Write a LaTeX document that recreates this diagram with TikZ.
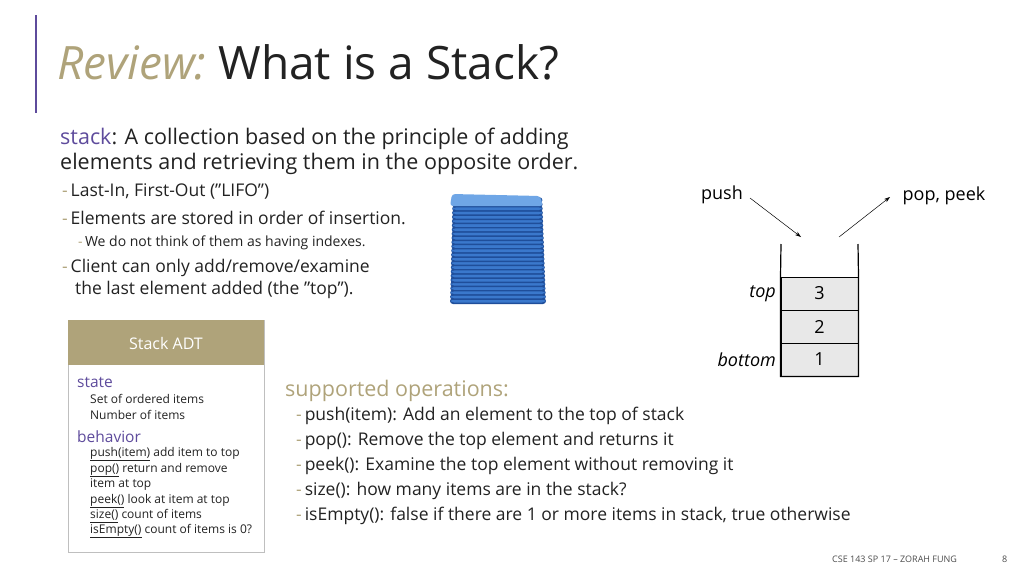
\documentclass[tikz,border=0pt]{standalone}
\usepackage{fontspec}
\setmainfont{Open Sans}
\usetikzlibrary{arrows.meta}
\definecolor{tan}{HTML}{AFA37A}
\definecolor{purp}{HTML}{5E4B9C}
\definecolor{txt}{HTML}{222222}
\definecolor{pl}{HTML}{3A78CC}
\definecolor{pld}{HTML}{1F4E9A}
\definecolor{plt}{HTML}{6FA6E6}
\tikzset{
 t/.style={anchor=west,inner sep=0pt,text=txt},
 cell/.style={draw=black,fill=black!9,minimum width=77pt,minimum height=33pt,inner sep=0pt,line width=1pt},
 arr/.style={-{Stealth[length=6pt,width=4pt]},line width=0.5pt},
 plate/.style={rounded corners=3pt}
}
\newcommand{\dsh}{\textcolor{tan}{-}\,}
\newcommand{\q}{\symbol{34}}
\begin{document}
\begin{tikzpicture}[x=1pt,y=-1pt]
\useasboundingbox (0,0) rectangle (1024,576);
\draw[purp,line width=1.5pt] (36,15) -- (36,113);
\node[t] (title) at (57,62) {\fontsize{46}{54}\selectfont\textcolor{tan}{\itshape Review:}\ What is a Stack?};
\node[t] (l1) at (60,139) {\fontsize{21.5}{26}\selectfont\textcolor{purp}{stack}: A collection based on the principle of adding};
\node[t] (l2) at (60,164) {\fontsize{21.5}{26}\selectfont elements and retrieving them in the opposite order.};
\node[t] (l3) at (62,191) {\fontsize{17.5}{21}\selectfont\dsh Last-In, First-Out (\q LIFO\q)};
\node[t] (l4) at (62,218) {\fontsize{17.5}{21}\selectfont\dsh Elements are stored in order of insertion.};
\node[t] (l5) at (78,243) {\fontsize{14}{17}\selectfont\dsh We do not think of them as having indexes.};
\node[t] (l6) at (62,268) {\fontsize{17.5}{21}\selectfont\dsh Client can only add/remove/examine};
\node[t] (l7) at (75,290) {\fontsize{17.5}{21}\selectfont the last element added (the \q top\q).};
% plates
\foreach \i in {0,...,24}{
 \pgfmathsetmacro{\yy}{304-\i*4.2}
 \fill[plate,pld] (450+\i*0.1,\yy) rectangle (546-\i*0.15,\yy-6);
 \fill[plate,pl] (451+\i*0.1,\yy-1.5) rectangle (545-\i*0.15,\yy-4.5);
}
\fill[plate,plt] (452,194) -- (540,196) -- (543,206) -- (450,206) -- cycle;
% ADT box
\draw[black!25,fill=white] (68,320) rectangle (264,552);
\fill[tan] (68,320) rectangle (264,365);
\node[text=white,inner sep=0pt] (adt) at (166,343) {\fontsize{16}{20}\selectfont Stack ADT};
\node[t,text=purp] (st) at (77,382) {\fontsize{15.5}{18}\selectfont state};
\node[t] (s1) at (90,399) {\fontsize{12}{14}\selectfont Set of ordered items};
\node[t] (s2) at (90,415) {\fontsize{12}{14}\selectfont Number of items};
\node[t,text=purp] (bh) at (77,437) {\fontsize{15.5}{18}\selectfont behavior};
\node[t] (b1) at (90,454) {\fontsize{12}{14}\selectfont \underline{push(item)} add item to top};
\node[t] (b2) at (90,470) {\fontsize{12}{14}\selectfont \underline{pop()} return and remove};
\node[t] (b3) at (90,485) {\fontsize{12}{14}\selectfont item at top};
\node[t] (b4) at (90,501) {\fontsize{12}{14}\selectfont \underline{peek()} look at item at top};
\node[t] (b5) at (90,516) {\fontsize{12}{14}\selectfont \underline{size()} count of items};
\node[t] (b6) at (90,531) {\fontsize{12}{14}\selectfont \underline{isEmpty()} count of items is 0?};
% operations
\node[t,text=tan] (so) at (285,391) {\fontsize{21.5}{26}\selectfont supported operations:};
\node[t] (o1) at (296,416) {\fontsize{17.5}{21}\selectfont\dsh push(item): Add an element to the top of stack};
\node[t] (o2) at (296,441) {\fontsize{17.5}{21}\selectfont\dsh pop(): Remove the top element and returns it};
\node[t] (o3) at (296,466) {\fontsize{17.5}{21}\selectfont\dsh peek(): Examine the top element without removing it};
\node[t] (o4) at (296,491) {\fontsize{17.5}{21}\selectfont\dsh size(): how many items are in the stack?};
\node[t] (o5) at (296,516) {\fontsize{17.5}{21}\selectfont\dsh isEmpty(): false if there are 1 or more items in stack, true otherwise};
% stack diagram
\node[cell] (c3) at (819.5,293.5) {\fontsize{18}{22}\selectfont 3};
\node[cell] (c2) at (819.5,326.5) {\fontsize{18}{22}\selectfont 2};
\node[cell] (c1) at (819.5,359.5) {\fontsize{18}{22}\selectfont 1};
\draw[line width=1.2pt] (781,244) -- (c3.north west) -- (c1.south west) -- (c1.south east) -- (c3.north east) -- (858,244);
\node[anchor=east,inner sep=0pt] (top) at (776,294) {\fontsize{18}{22}\selectfont\itshape top};
\node[anchor=east,inner sep=0pt] (bot) at (776,360) {\fontsize{18}{22}\selectfont\itshape bottom};
\node[inner sep=0pt] (push) at (722,195) {\fontsize{18}{22}\selectfont push};
\node[inner sep=0pt] (pop) at (944,196) {\fontsize{18}{22}\selectfont pop, peek};
\coordinate (pin) at (801,237);
\coordinate (pout) at (839,237);
\draw[arr] (750,198) -- (pin);
\draw[arr] (pout) -- (890,197);
% footer
\node[t,text=black!70] (ft) at (832,559) {\fontsize{9}{11}\selectfont CSE 143 SP 17 -- ZORAH FUNG};
\node[t,text=black!70] (pg) at (1002,559) {\fontsize{9}{11}\selectfont 8};
\end{tikzpicture}
\end{document}
